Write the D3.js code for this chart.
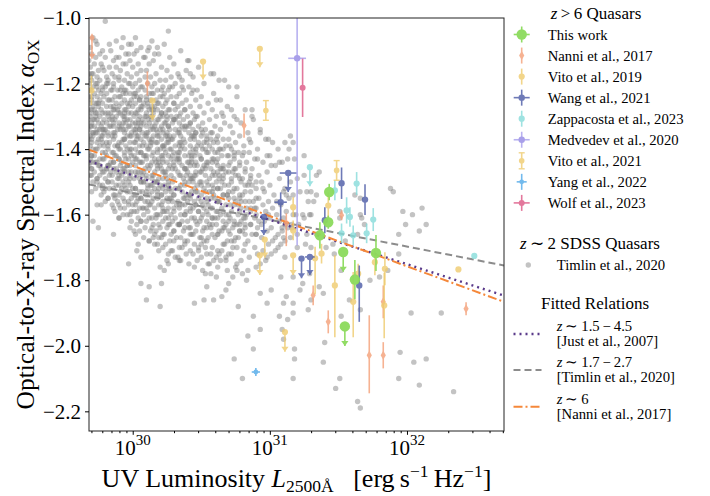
<!DOCTYPE html>
<html>
<head>
<meta charset="utf-8">
<script src="https://cdn.jsdelivr.net/npm/d3@7"></script>
<style>
  body { margin: 0; background: #fff; }
  text { font-family: "Liberation Serif", "Times New Roman", serif; fill: #000; }
</style>
</head>
<body>
<svg id="chart" width="710" height="496"></svg>
<script>
// rows: [log10 L2500, alphaOX, errDown, errUp, xErrDex, upperLimit]
var thisWork = [
  [31.433, -1.531, 0.025, 0.025, 0, 0], [31.426, -1.623, 0.02, 0.02, 0, 0],
  [31.365, -1.663, 0.04, 0.04, 0, 0], [31.535, -1.714, 0.06, 0, 0, 1],
  [31.774, -1.717, 0.055, 0.055, 0, 0], [31.620, -1.798, 0.06, 0.06, 0, 0],
  [31.547, -1.941, 0.06, 0, 0, 1]
];
var nanni2017 = [
  [29.703, -1.060, 0.064, 0, 0, 1], [30.107, -1.200, 0.037, 0.037, 0, 0],
  [30.812, -1.328, 0.037, 0.037, 0, 0], [31.120, -1.626, 0.07, 0.03, 0, 0],
  [31.523, -1.602, 0.015, 0.015, 0, 0], [31.316, -1.846, 0.03, 0.03, 0, 0],
  [31.426, -1.927, 0.035, 0.035, 0, 0], [31.725, -2.029, 0.116, 0.122, 0, 0],
  [31.827, -1.866, 0.05, 0.05, 0, 0], [31.827, -2.029, 0.04, 0.04, 0, 0],
  [32.431, -1.887, 0.02, 0.02, 0, 0]
];
var vito2019 = [
  [30.927, -1.094, 0.056, 0, 0, 1], [30.513, -1.133, 0.055, 0, 0, 1],
  [30.144, -1.252, 0.06, 0, 0, 1], [29.699, -1.221, 0.045, 0.045, 0, 0],
  [30.963, -1.676, 0.055, 0, 0, 1], [30.927, -1.724, 0.06, 0, 0, 1],
  [31.170, -1.577, 0.03, 0.03, 0, 0], [31.170, -1.648, 0.03, 0.03, 0, 0],
  [31.170, -1.724, 0.06, 0, 0, 1], [31.110, -1.958, 0.06, 0, 0, 1],
  [31.330, -1.733, 0.11, 0.035, 0, 0], [31.377, -1.719, 0.03, 0.03, 0, 0],
  [31.474, -1.816, 0.158, 0.092, 0, 0], [31.608, -1.866, 0.108, 0.091, 0, 0],
  [31.766, -1.745, 0.04, 0.04, 0, 0], [31.839, -1.765, 0.05, 0.05, 0, 0],
  [31.834, -1.877, 0.1, 0.1, 0, 0], [32.375, -1.767, 0, 0, 0, 0],
  [31.426, -1.572, 0.04, 0.04, 0, 0], [31.644, -1.780, 0.03, 0.03, 0, 0]
];
var wang2021 = [
  [31.134, -1.473, 0.058, 0, 0.062, 1], [31.079, -1.562, 0.056, 0.03, 0.045, 0],
  [30.956, -1.607, 0.055, 0, 0, 1], [31.523, -1.504, 0.048, 0.048, 0, 0],
  [31.694, -1.554, 0.047, 0.047, 0, 0], [31.231, -1.734, 0.06, 0, 0, 1],
  [31.292, -1.729, 0.055, 0, 0.035, 1], [31.652, -1.816, 0.111, 0.061, 0, 0],
  [31.401, -1.617, 0.04, 0.04, 0, 0]
];
var zappacosta2023 = [
  [31.292, -1.455, 0.058, 0, 0, 1], [31.633, -1.505, 0.035, 0.035, 0, 0],
  [31.474, -1.526, 0.03, 0.03, 0, 0], [31.560, -1.587, 0.04, 0.04, 0, 0],
  [31.584, -1.607, 0.03, 0.03, 0, 0], [31.706, -1.657, 0.03, 0.03, 0, 0],
  [31.754, -1.615, 0.035, 0.035, 0, 0], [31.523, -1.657, 0.03, 0.03, 0, 0],
  [31.608, -1.663, 0.03, 0.03, 0, 0], [32.491, -1.726, 0, 0, 0, 0]
];
var medvedev2020 = [[31.199, -1.123, 0.571, 0.3, 0.065, 0]];
var vito2021 = [[30.971, -1.282, 0.03, 0.03, 0, 0], [31.487, -1.465, 0.03, 0.03, 0, 0]];
var yang2022 = [[30.898, -2.080, 0.012, 0.012, 0.03, 0]];
var wolf2023 = [[31.239, -1.213, 0.089, 0.089, 0, 0]];

// z~2 SDSS sample, core read row by row: [alphaOX, [log10 L2500, ...]]
var timlin2020Core = [
  [-1.06, [29.71, 30.02]], [-1.07, [29.88, 30.14]], [-1.08, [29.74, 29.97, 30.23]],
  [-1.09, [29.69, 29.92, 30.06]], [-1.10, [29.78, 29.84, 30.11, 30.35]],
  [-1.11, [29.70, 29.95, 30.01, 30.19]], [-1.12, [29.73, 29.80, 29.90, 30.08, 30.27]],
  [-1.13, [29.68, 29.86, 29.98, 30.15, 30.41]], [-1.14, [29.72, 29.77, 29.93, 30.04, 30.12, 30.30]],
  [-1.15, [29.69, 29.83, 29.88, 30.00, 30.21, 30.48]],
  [-1.16, [29.75, 29.79, 29.91, 30.06, 30.10, 30.25, 30.39]],
  [-1.17, [29.68, 29.71, 29.85, 29.96, 30.03, 30.17, 30.33, 30.57]],
  [-1.18, [29.74, 29.81, 29.87, 29.99, 30.09, 30.13, 30.28, 30.44]],
  [-1.19, [29.70, 29.76, 29.90, 29.94, 30.05, 30.20, 30.24, 30.36, 30.63]],
  [-1.20, [29.68, 29.73, 29.82, 29.86, 29.97, 30.02, 30.11, 30.16, 30.31, 30.52]],
  [-1.21, [29.71, 29.78, 29.80, 29.92, 30.00, 30.07, 30.14, 30.22, 30.29, 30.41, 30.70]],
  [-1.22, [29.69, 29.75, 29.84, 29.89, 29.95, 30.04, 30.09, 30.18, 30.26, 30.37, 30.47]],
  [-1.23, [29.72, 29.77, 29.81, 29.93, 29.98, 30.01, 30.12, 30.15, 30.23, 30.34, 30.43, 30.59]],
  [-1.24, [29.68, 29.74, 29.79, 29.87, 29.91, 30.03, 30.06, 30.10, 30.20, 30.28, 30.32, 30.50, 30.76]],
  [-1.25, [29.70, 29.76, 29.83, 29.85, 29.94, 29.99, 30.05, 30.13, 30.17, 30.25, 30.39, 30.46, 30.64]],
  [-1.26, [29.69, 29.73, 29.78, 29.88, 29.92, 29.96, 30.02, 30.08, 30.11, 30.19, 30.24, 30.30, 30.36, 30.55]],
  [-1.27, [29.71, 29.75, 29.81, 29.84, 29.90, 29.97, 30.00, 30.07, 30.14, 30.16, 30.22, 30.33, 30.42, 30.49, 30.69]],
  [-1.28, [29.68, 29.72, 29.77, 29.86, 29.89, 29.95, 30.04, 30.06, 30.12, 30.18, 30.27, 30.31, 30.38, 30.58, 30.82]],
  [-1.29, [29.70, 29.74, 29.80, 29.82, 29.91, 29.94, 29.99, 30.03, 30.10, 30.15, 30.21, 30.24, 30.35, 30.44, 30.52, 30.65]],
  [-1.30, [29.69, 29.73, 29.76, 29.85, 29.88, 29.93, 30.01, 30.05, 30.09, 30.13, 30.20, 30.28, 30.32, 30.40, 30.47, 30.61, 30.74]],
  [-1.31, [29.68, 29.71, 29.79, 29.83, 29.87, 29.96, 29.98, 30.04, 30.11, 30.14, 30.19, 30.25, 30.30, 30.37, 30.45, 30.56, 30.88]],
  [-1.32, [29.70, 29.75, 29.78, 29.81, 29.90, 29.93, 30.00, 30.02, 30.08, 30.12, 30.17, 30.23, 30.29, 30.34, 30.42, 30.51, 30.67, 30.79]],
  [-1.33, [29.69, 29.72, 29.77, 29.84, 29.86, 29.92, 29.97, 30.03, 30.06, 30.10, 30.16, 30.21, 30.26, 30.36, 30.39, 30.48, 30.60, 30.71]],
  [-1.34, [29.68, 29.74, 29.76, 29.80, 29.89, 29.91, 29.95, 30.01, 30.05, 30.13, 30.15, 30.20, 30.27, 30.31, 30.38, 30.44, 30.53, 30.64, 30.93]],
  [-1.35, [29.71, 29.73, 29.79, 29.82, 29.87, 29.94, 29.99, 30.02, 30.07, 30.11, 30.18, 30.22, 30.25, 30.33, 30.41, 30.46, 30.57, 30.73, 30.84]],
  [-1.36, [29.69, 29.71, 29.78, 29.85, 29.87, 29.96, 29.99, 30.04, 30.09, 30.10, 30.19, 30.24, 30.25, 30.35, 30.43, 30.45, 30.50, 30.62, 30.78]],
  [-1.37, [29.68, 29.75, 29.77, 29.86, 29.93, 29.94, 30.03, 30.12, 30.14, 30.21, 30.28, 30.29, 30.37, 30.45, 30.54, 30.57, 30.66, 30.70, 30.97]],
  [-1.38, [29.70, 29.74, 29.81, 29.83, 29.92, 29.98, 30.01, 30.08, 30.17, 30.18, 30.26, 30.34, 30.35, 30.48, 30.52, 30.59, 30.75, 30.86]],
  [-1.39, [29.69, 29.76, 29.79, 29.87, 29.89, 29.95, 30.05, 30.07, 30.13, 30.22, 30.23, 30.31, 30.36, 30.42, 30.47, 30.56, 30.68, 30.81]],
  [-1.40, [29.71, 29.73, 29.82, 29.90, 29.91, 29.96, 30.02, 30.11, 30.12, 30.20, 30.27, 30.28, 30.38, 30.44, 30.51, 30.53, 30.63, 30.72, 30.91]],
  [-1.41, [29.68, 29.78, 29.80, 29.85, 29.94, 29.98, 30.04, 30.06, 30.15, 30.18, 30.24, 30.33, 30.34, 30.46, 30.55, 30.60, 30.62, 30.77, 30.85]],
  [-1.42, [29.70, 29.72, 29.81, 29.87, 29.88, 29.99, 30.01, 30.08, 30.14, 30.21, 30.22, 30.29, 30.41, 30.43, 30.49, 30.65, 30.69, 30.80, 31.00]],
  [-1.43, [29.69, 29.76, 29.79, 29.90, 29.95, 29.97, 30.03, 30.10, 30.16, 30.19, 30.28, 30.32, 30.33, 30.43, 30.50, 30.58, 30.59, 30.74, 30.89]],
  [-1.44, [29.71, 29.73, 29.84, 29.86, 29.92, 30.00, 30.05, 30.07, 30.17, 30.22, 30.25, 30.34, 30.40, 30.41, 30.54, 30.61, 30.71, 30.83, 30.95]],
  [-1.45, [29.68, 29.75, 29.82, 29.83, 29.91, 29.96, 30.02, 30.11, 30.13, 30.20, 30.27, 30.30, 30.36, 30.45, 30.47, 30.52, 30.62, 30.70, 30.78, 31.04]],
  [-1.46, [29.70, 29.77, 29.81, 29.88, 29.93, 29.94, 30.09, 30.12, 30.18, 30.21, 30.31, 30.38, 30.39, 30.51, 30.57, 30.64, 30.66, 30.75, 30.87]],
  [-1.47, [29.72, 29.79, 29.84, 29.97, 29.99, 30.04, 30.08, 30.16, 30.23, 30.24, 30.33, 30.40, 30.46, 30.49, 30.59, 30.68, 30.73, 30.82, 30.98]],
  [-1.48, [29.69, 29.76, 29.83, 29.85, 29.92, 30.03, 30.07, 30.14, 30.15, 30.24, 30.28, 30.35, 30.42, 30.45, 30.53, 30.60, 30.66, 30.77, 30.92]],
  [-1.49, [29.74, 29.80, 29.89, 29.90, 29.95, 30.05, 30.10, 30.19, 30.22, 30.25, 30.37, 30.43, 30.44, 30.56, 30.63, 30.72, 30.80, 30.86, 31.07]],
  [-1.50, [29.71, 29.74, 29.85, 29.93, 29.97, 30.06, 30.08, 30.17, 30.26, 30.29, 30.41, 30.44, 30.50, 30.61, 30.65, 30.72, 30.79, 30.94]],
  [-1.51, [29.76, 29.88, 29.90, 29.98, 30.11, 30.13, 30.20, 30.23, 30.35, 30.38, 30.47, 30.55, 30.58, 30.67, 30.84, 30.87, 31.00]],
  [-1.52, [29.73, 29.80, 29.83, 29.95, 30.00, 30.02, 30.16, 30.19, 30.27, 30.31, 30.33, 30.45, 30.52, 30.62, 30.64, 30.76, 30.90, 31.11]],
  [-1.53, [29.79, 29.91, 29.96, 30.05, 30.07, 30.14, 30.24, 30.28, 30.36, 30.43, 30.47, 30.53, 30.56, 30.70, 30.73, 30.82, 30.96]],
  [-1.54, [29.77, 29.86, 29.87, 30.01, 30.10, 30.12, 30.18, 30.21, 30.30, 30.39, 30.41, 30.50, 30.59, 30.66, 30.69, 30.80, 31.03]],
  [-1.55, [29.82, 29.93, 29.99, 30.04, 30.06, 30.15, 30.25, 30.27, 30.37, 30.42, 30.48, 30.57, 30.60, 30.74, 30.78, 30.92, 31.14]],
  [-1.56, [29.80, 29.89, 30.03, 30.09, 30.11, 30.22, 30.29, 30.33, 30.40, 30.45, 30.54, 30.62, 30.63, 30.75, 30.85, 30.88, 30.99]],
  [-1.57, [29.85, 29.97, 30.00, 30.13, 30.19, 30.21, 30.32, 30.36, 30.46, 30.51, 30.55, 30.68, 30.71, 30.77, 30.95, 31.08]],
  [-1.58, [29.91, 29.94, 30.05, 30.08, 30.16, 30.26, 30.30, 30.34, 30.44, 30.52, 30.57, 30.65, 30.79, 30.83, 30.90, 31.02]],
  [-1.59, [29.87, 30.01, 30.03, 30.11, 30.23, 30.25, 30.39, 30.42, 30.48, 30.61, 30.62, 30.72, 30.86, 30.97, 31.12]],
  [-1.60, [29.93, 29.96, 30.08, 30.17, 30.20, 30.28, 30.35, 30.38, 30.51, 30.55, 30.64, 30.68, 30.77, 30.83, 31.05, 31.19]],
  [-1.61, [29.90, 30.04, 30.12, 30.14, 30.24, 30.31, 30.43, 30.45, 30.58, 30.60, 30.71, 30.81, 30.89, 31.00, 31.10]],
  [-1.62, [29.99, 30.06, 30.10, 30.22, 30.29, 30.36, 30.40, 30.49, 30.54, 30.66, 30.70, 30.79, 30.92, 30.96, 31.07]],
  [-1.63, [30.03, 30.15, 30.19, 30.26, 30.33, 30.34, 30.47, 30.56, 30.61, 30.74, 30.76, 30.86, 30.94, 31.16]],
  [-1.64, [29.98, 30.09, 30.20, 30.25, 30.38, 30.41, 30.52, 30.57, 30.67, 30.73, 30.82, 30.91, 31.01, 31.13]],
  [-1.65, [30.05, 30.13, 30.17, 30.30, 30.37, 30.46, 30.51, 30.63, 30.65, 30.78, 30.80, 30.98, 31.09]],
  [-1.66, [30.02, 30.16, 30.23, 30.28, 30.43, 30.44, 30.58, 30.62, 30.71, 30.87, 30.90, 31.06, 31.20]],
  [-1.67, [30.08, 30.19, 30.32, 30.35, 30.49, 30.55, 30.60, 30.75, 30.77, 30.94, 31.04, 31.15]],
  [-1.68, [30.12, 30.27, 30.30, 30.40, 30.52, 30.54, 30.69, 30.72, 30.84, 31.02, 31.11]],
  [-1.69, [30.16, 30.24, 30.38, 30.45, 30.50, 30.66, 30.67, 30.82, 30.99, 31.08]],
  [-1.70, [30.22, 30.34, 30.36, 30.53, 30.58, 30.73, 30.76, 30.89, 31.06]],
  [-1.71, [30.19, 30.29, 30.42, 30.48, 30.62, 30.65, 30.81, 30.95, 31.04]],
  [-1.72, [30.26, 30.39, 30.44, 30.57, 30.70, 30.72, 30.91, 31.01]],
  [-1.73, [30.31, 30.33, 30.50, 30.61, 30.68, 30.85, 30.98]],
  [-1.74, [30.35, 30.47, 30.59, 30.64, 30.79, 30.97]],
  [-1.75, [30.41, 30.55, 30.56, 30.76, 30.93]],
  [-1.76, [30.45, 30.62, 30.75, 30.90]],
  [-1.77, [30.51, 30.69, 30.84]],
  [-1.78, [30.57, 30.80]]
];

// z~2 SDSS sample, core read column by column: [log10 L2500, [alphaOX, ...]]
var timlin2020Cols = [
  [29.70, [-1.17, -1.24, -1.28, -1.33, -1.37, -1.42, -1.46, -1.53]],
  [29.74, [-1.20, -1.26, -1.31, -1.35, -1.40, -1.44, -1.49, -1.57]],
  [29.78, [-1.15, -1.22, -1.29, -1.34, -1.38, -1.43, -1.47, -1.51]],
  [29.82, [-1.19, -1.25, -1.30, -1.36, -1.39, -1.45, -1.50, -1.55]],
  [29.86, [-1.21, -1.27, -1.32, -1.35, -1.41, -1.46, -1.52, -1.58]],
  [29.90, [-1.18, -1.24, -1.29, -1.33, -1.38, -1.43, -1.48, -1.54, -1.61]],
  [29.94, [-1.22, -1.28, -1.31, -1.37, -1.42, -1.47, -1.51, -1.56]],
  [29.98, [-1.20, -1.26, -1.33, -1.36, -1.40, -1.45, -1.49, -1.53, -1.60]],
  [30.02, [-1.23, -1.29, -1.34, -1.38, -1.43, -1.47, -1.52, -1.57]],
  [30.06, [-1.21, -1.27, -1.32, -1.37, -1.41, -1.44, -1.50, -1.55, -1.62]],
  [30.10, [-1.25, -1.30, -1.35, -1.39, -1.42, -1.48, -1.53, -1.58]],
  [30.14, [-1.23, -1.28, -1.33, -1.38, -1.44, -1.49, -1.51, -1.56, -1.64]],
  [30.18, [-1.26, -1.31, -1.36, -1.40, -1.45, -1.50, -1.55, -1.60]],
  [30.22, [-1.24, -1.30, -1.34, -1.39, -1.43, -1.47, -1.52, -1.58, -1.66]],
  [30.26, [-1.28, -1.33, -1.37, -1.42, -1.46, -1.51, -1.56, -1.61]],
  [30.30, [-1.26, -1.31, -1.36, -1.41, -1.44, -1.49, -1.54, -1.59, -1.65]],
  [30.34, [-1.30, -1.35, -1.39, -1.43, -1.48, -1.52, -1.57, -1.63]],
  [30.38, [-1.28, -1.33, -1.38, -1.42, -1.46, -1.50, -1.55, -1.60, -1.68]],
  [30.42, [-1.32, -1.37, -1.41, -1.45, -1.49, -1.54, -1.58, -1.64]],
  [30.46, [-1.30, -1.35, -1.40, -1.44, -1.48, -1.53, -1.57, -1.62]],
  [30.50, [-1.34, -1.39, -1.43, -1.47, -1.51, -1.56, -1.61, -1.67]],
  [30.54, [-1.36, -1.41, -1.45, -1.50, -1.55, -1.59, -1.64]],
  [30.58, [-1.35, -1.40, -1.44, -1.48, -1.53, -1.58, -1.63]],
  [30.62, [-1.38, -1.43, -1.47, -1.52, -1.56, -1.61, -1.66]],
  [30.66, [-1.40, -1.45, -1.49, -1.54, -1.59, -1.64]],
  [30.70, [-1.42, -1.47, -1.51, -1.55, -1.60, -1.65]],
  [30.74, [-1.41, -1.46, -1.52, -1.57, -1.62, -1.68]],
  [30.78, [-1.44, -1.49, -1.54, -1.59, -1.63]],
  [30.82, [-1.46, -1.51, -1.56, -1.61, -1.66]],
  [30.86, [-1.48, -1.53, -1.58, -1.63]],
  [30.90, [-1.50, -1.55, -1.60, -1.66]]
];

// z~2 SDSS sample, remaining points: [log10 L2500, alphaOX]
var timlin2020 = [
  [29.69,-1.18],[29.73,-1.29],[29.77,-1.36],[29.72,-1.31],[29.74,-1.21],[29.76,-1.45],
  [29.71,-1.35],[29.75,-1.26],[29.79,-1.34],[29.70,-1.48],[29.78,-1.52],[29.69,-1.44],
  [29.81,-1.20],[29.85,-1.31],[29.89,-1.39],[29.84,-1.29],[29.88,-1.47],[29.83,-1.33],
  [29.87,-1.28],[29.82,-1.50],[29.86,-1.44],[29.85,-1.22],[29.87,-1.55],[29.81,-1.46],
  [29.91,-1.22],[29.95,-1.32],[29.99,-1.40],[29.94,-1.30],[29.98,-1.48],[29.93,-1.34],
  [29.97,-1.29],[29.92,-1.52],[29.96,-1.45],[29.95,-1.23],[29.97,-1.56],[29.91,-1.47],
  [30.01,-1.24],[30.05,-1.34],[30.09,-1.42],[30.04,-1.32],[30.08,-1.50],[30.03,-1.36],
  [30.07,-1.31],[30.02,-1.54],[30.06,-1.47],[30.05,-1.25],[30.07,-1.58],[30.01,-1.49],
  [30.11,-1.27],[30.15,-1.36],[30.19,-1.44],[30.14,-1.30],[30.18,-1.53],[30.13,-1.38],
  [30.17,-1.34],[30.12,-1.57],[30.16,-1.50],[30.15,-1.28],[30.17,-1.61],[30.11,-1.52],
  [30.21,-1.29],[30.25,-1.38],[30.29,-1.46],[30.24,-1.32],[30.28,-1.55],[30.23,-1.40],
  [30.27,-1.36],[30.22,-1.59],[30.26,-1.52],[30.25,-1.30],[30.27,-1.63],[30.21,-1.54],
  [30.31,-1.31],[30.35,-1.40],[30.39,-1.48],[30.34,-1.34],[30.38,-1.57],[30.33,-1.42],
  [30.41,-1.33],[30.45,-1.42],[30.49,-1.50],[30.44,-1.36],[30.48,-1.59],[30.43,-1.44],
  [30.51,-1.35],[30.55,-1.44],[30.59,-1.52],[30.54,-1.38],[30.58,-1.61],[30.53,-1.46],
  [30.61,-1.37],[30.65,-1.46],[30.69,-1.54],[30.64,-1.40],[30.68,-1.63],[30.63,-1.48],
  [30.71,-1.39],[30.75,-1.48],[30.79,-1.56],[30.74,-1.42],[30.78,-1.65],
  [30.81,-1.41],[30.85,-1.50],[30.89,-1.58],[30.82,-1.63],
  [30.91,-1.43],[30.95,-1.52],[30.99,-1.60],[31.01,-1.45],[31.05,-1.56],[31.09,-1.64],
  // sparse outskirts
  [29.80,-1.01],[30.26,-1.04],[29.93,-1.06],[29.73,-1.07],[29.83,-1.08],[29.99,-1.08],
  [30.12,-1.09],[30.18,-1.09],[29.97,-1.11],[30.03,-1.10],[29.88,-1.12],[30.40,-1.13],
  [30.09,-1.12],[30.16,-1.11],[29.76,-1.11],[29.95,-1.14],[30.59,-1.17],[30.67,-1.19],
  [30.42,-1.17],[30.34,-1.18],[30.27,-1.21],[30.21,-1.22],[30.76,-1.21],[30.61,-1.25],
  [30.44,-1.22],[30.36,-1.21],[30.72,-1.28],[30.87,-1.28],[30.87,-1.30],[30.66,-1.30],
  [30.76,-1.31],[30.93,-1.35],[30.99,-1.37],[31.02,-1.38],[31.11,-1.38],[31.07,-1.44],
  [31.13,-1.43],[30.98,-1.42],[30.85,-1.37],[31.06,-1.40],[31.15,-1.36],
  [31.14,-1.40],[31.17,-1.38],[31.25,-1.42],[31.09,-1.44],[31.18,-1.43],[31.36,-1.47],
  [31.34,-1.48],[31.25,-1.48],[31.20,-1.49],[31.15,-1.50],[31.10,-1.53],[31.22,-1.53],
  [31.27,-1.53],[31.30,-1.53],[31.34,-1.54],[31.17,-1.54],[31.12,-1.54],[31.32,-1.56],
  [31.28,-1.56],[31.62,-1.54],[31.66,-1.55],[31.88,-1.52],[31.90,-1.53],[31.97,-1.59],
  [32.04,-1.60],[32.11,-1.58],[31.51,-1.59],[31.25,-1.61],[31.29,-1.60],[31.51,-1.61],
  [31.67,-1.61],[31.17,-1.60],[31.24,-1.60],[31.30,-1.60],[31.11,-1.63],[31.16,-1.64],
  [31.21,-1.63],[31.10,-1.67],[31.27,-1.66],[31.34,-1.66],[31.20,-1.70],[31.26,-1.69],
  [31.30,-1.70],[31.41,-1.70],[31.46,-1.69],[31.47,-1.72],[31.55,-1.68],[31.64,-1.66],
  [31.69,-1.63],[31.66,-1.60],[31.11,-1.73],[31.08,-1.79],[31.17,-1.79],[31.24,-1.81],
  [31.29,-1.78],[31.22,-1.83],[31.36,-1.82],[31.30,-1.86],[31.12,-1.85],[31.17,-1.87],
  [31.17,-1.90],[31.28,-1.89],[31.39,-1.84],[31.52,-1.77],[31.58,-1.86],[31.52,-1.91],
  [31.66,-1.89],[31.73,-1.80],[31.80,-1.79],[31.86,-1.77],[31.94,-1.66],[31.99,-1.63],
  [32.09,-1.65],[32.14,-1.63],[31.94,-1.72],[32.03,-1.90],[31.95,-2.02],[32.05,-2.05],
  [32.14,-2.04],[32.09,-2.12],[31.94,-2.10],[31.51,-2.10],[31.48,-2.13],[31.64,-2.17],
  [31.66,-2.19],[31.17,-2.10],[31.18,-2.04],[31.18,-2.01],[31.40,-1.99],[31.39,-2.05],
  [31.09,-1.95],[31.10,-1.98],[32.25,-1.90],[32.34,-2.14],
  [29.97,-1.75],[30.03,-1.71],[30.01,-1.65],[30.04,-1.69],[30.06,-1.81],[30.10,-1.86],
  [30.12,-1.82],[30.21,-1.81],[30.20,-1.88],[30.20,-1.76],[30.26,-1.75],[30.23,-1.77],
  [30.34,-1.74],[30.45,-1.87],[30.52,-1.86],[30.59,-1.86],[30.54,-1.82],[30.53,-1.78],
  [30.61,-1.79],[30.65,-1.85],[30.68,-1.83],[30.70,-1.81],[30.76,-1.77],[30.77,-1.88],
  [30.83,-1.80],[30.84,-1.97],[30.88,-1.91],[30.93,-1.95],[30.93,-1.84],[30.98,-1.87],
  [31.01,-1.83],[31.07,-1.91],[31.10,-1.87],[30.80,-2.10],[30.74,-2.04],[30.88,-2.01],
  [31.13,-1.92],[29.77,-1.57],[29.90,-1.57],[29.99,-1.59],[30.15,-1.67],[30.12,-1.68],
  [30.18,-1.69],[30.21,-1.67],[30.42,-1.66],[30.34,-1.63],[30.28,-1.71],[30.25,-1.74],
  [30.68,-1.74],[30.63,-1.72],[30.73,-1.79],[30.54,-1.72],[30.48,-1.70],[29.86,-1.66],
  [29.71,-1.62],[29.75,-1.64],[30.06,-1.73]
];

// fitted relations, end points read at the axis limits
var justFit = [[29.681, -1.437], [32.708, -1.847]];
var timlinFit = [[29.681, -1.508], [32.708, -1.755]];
var nanniFit = [[29.681, -1.402], [32.708, -1.866]];

var yTicks = [-2.2, -2.0, -1.8, -1.6, -1.4, -1.2, -1.0];
var xMajorExps = [30, 31, 32];
var highzLabels = ['This work', 'Nanni et al., 2017', 'Vito et al., 2019', 'Wang et al., 2021',
  'Zappacosta et al., 2023', 'Medvedev et al., 2020', 'Vito et al., 2021', 'Yang et al., 2022', 'Wolf et al., 2023'];

var plotLeft = 89, plotRight = 504, plotTop = 18, plotBottom = 431;

var x = d3.scaleLog().domain([4.8e29, 5.1e32]).range([plotLeft, plotRight]);
var y = d3.scaleLinear().domain([-2.26, -1.0]).range([plotBottom, plotTop]);
function px(l) { return x(Math.pow(10, l)); }

var svg = d3.select('#chart');
svg.append('defs').append('clipPath').attr('id', 'plotClip')
  .append('rect')
  .attr('x', plotLeft).attr('y', plotTop)
  .attr('width', plotRight - plotLeft).attr('height', plotBottom - plotTop);

var plot = svg.append('g').attr('clip-path', 'url(#plotClip)');

// SDSS cloud
var sdssPoints = [];
timlin2020Core.forEach(function (row) {
  row[1].forEach(function (l) { sdssPoints.push([l, row[0]]); });
});
timlin2020Cols.forEach(function (col) {
  col[1].forEach(function (a) { sdssPoints.push([col[0], a]); });
});
sdssPoints = sdssPoints.concat(timlin2020);

plot.append('g').selectAll('circle')
  .data(sdssPoints)
  .enter().append('circle')
  .attr('cx', function (d) { return px(d[0]); })
  .attr('cy', function (d) { return y(d[1]); })
  .attr('r', 2.7)
  .attr('fill', '#828282')
  .attr('fill-opacity', 0.48);

// fitted relations
var fitLine = d3.line()
  .x(function (d) { return px(d[0]); })
  .y(function (d) { return y(d[1]); });

var fitStyles = [
  { data: timlinFit, color: '#8c8c8c', dash: '7,4', cap: 'butt', width: 2 },
  { data: justFit, color: '#5a3a8a', dash: '2,4', cap: 'butt', width: 2.4 },
  { data: nanniFit, color: '#f5883a', dash: '9,3,2,3', cap: 'butt', width: 2 }
];
fitStyles.forEach(function (f) {
  plot.append('path')
    .attr('d', fitLine(f.data))
    .attr('fill', 'none')
    .attr('stroke', f.color)
    .attr('stroke-width', f.width)
    .attr('stroke-dasharray', f.dash)
    .attr('stroke-linecap', f.cap);
});

// marker drawing for the z>6 samples
function drawMarker(g, cx, cy, st) {
  if (st.shape === 'diamond') {
    g.append('path')
      .attr('d', 'M' + cx + ',' + (cy - 4.5) + 'L' + (cx + 2.6) + ',' + cy + 'L' + cx + ',' + (cy + 4.5) + 'L' + (cx - 2.6) + ',' + cy + 'Z')
      .attr('fill', st.color);
  } else {
    g.append('circle').attr('cx', cx).attr('cy', cy).attr('r', st.r).attr('fill', st.color);
  }
}

function drawSample(rows, st) {
  var layer = plot.append('g');
  rows.forEach(function (d) {
    var cx = px(d[0]), cy = y(d[1]);
    var g = layer.append('g').attr('opacity', st.opacity);
    var lc = st.lineColor || st.color;
    var yLo = y(d[1] - d[2]), yHi = y(d[1] + d[3]);
    if (d[2] || d[3]) {
      g.append('line').attr('x1', cx).attr('x2', cx).attr('y1', yLo).attr('y2', yHi)
        .attr('stroke', lc).attr('stroke-width', 1.6);
      if (st.caps) {
        [yLo, yHi].forEach(function (yy) {
          g.append('line').attr('x1', cx - 3).attr('x2', cx + 3).attr('y1', yy).attr('y2', yy)
            .attr('stroke', lc).attr('stroke-width', 1.4);
        });
      }
    }
    if (d[4]) {
      g.append('line').attr('x1', px(d[0] - d[4])).attr('x2', px(d[0] + d[4])).attr('y1', cy).attr('y2', cy)
        .attr('stroke', lc).attr('stroke-width', 1.6);
    }
    if (d[5]) {
      g.append('path')
        .attr('d', 'M' + (cx - 3.6) + ',' + (yLo - 5) + 'L' + (cx + 3.6) + ',' + (yLo - 5) + 'L' + cx + ',' + yLo + 'Z')
        .attr('fill', lc);
    }
    drawMarker(g, cx, cy, st);
  });
}

var styles = [
  { rows: thisWork, color: '#8cdb5c', r: 5.2, opacity: 0.95, legendH: true },
  { rows: nanni2017, color: '#f4a078', shape: 'diamond', opacity: 0.8 },
  { rows: vito2019, color: '#efcb6e', r: 3.1, opacity: 0.8 },
  { rows: wang2021, color: '#4b5aa6', r: 3.2, opacity: 0.8, legendH: true },
  { rows: zappacosta2023, color: '#86dcda', r: 3.1, opacity: 0.8 },
  { rows: medvedev2020, color: '#9a8fe6', lineColor: '#aca4ee', r: 3.2, opacity: 0.85, legendH: true },
  { rows: vito2021, color: '#efcb6e', r: 2.8, opacity: 0.8, caps: true },
  { rows: yang2022, color: '#5aaeea', r: 2.4, opacity: 0.85, legendH: true },
  { rows: wolf2023, color: '#dd5784', r: 3.0, opacity: 0.8, legendH: true }
];
// draw literature first, this work on top
styles.slice(1).forEach(function (st) { drawSample(st.rows, st); });
drawSample(styles[0].rows, styles[0]);

// frame
svg.append('rect')
  .attr('x', plotLeft).attr('y', plotTop)
  .attr('width', plotRight - plotLeft).attr('height', plotBottom - plotTop)
  .attr('fill', 'none').attr('stroke', '#222').attr('stroke-width', 1);

// y axis
var yAxis = svg.append('g')
  .attr('transform', 'translate(' + plotLeft + ',0)')
  .call(d3.axisLeft(y).tickValues(yTicks).tickSize(4).tickPadding(4)
    .tickFormat(function (d) { return d3.format('.1f')(d).replace('-', '\u2212'); }));
yAxis.select('.domain').remove();
yAxis.selectAll('text').attr('font-size', 21).attr('fill', '#000');

// x axis: minor then major log ticks
var minorVals = [];
[29, 30, 31, 32].forEach(function (e) {
  for (var k = 2; k <= 9; k++) {
    var v = k * Math.pow(10, e);
    if (v > x.domain()[0] && v < x.domain()[1]) minorVals.push(v);
  }
});
var xMinor = svg.append('g')
  .attr('transform', 'translate(0,' + plotBottom + ')')
  .call(d3.axisBottom(x).tickValues(minorVals).tickSize(2.2).tickFormat(''));
xMinor.select('.domain').remove();

var xMajor = svg.append('g')
  .attr('transform', 'translate(0,' + plotBottom + ')')
  .call(d3.axisBottom(x).tickValues(xMajorExps.map(function (e) { return Math.pow(10, e); }))
    .tickSize(3.8).tickFormat(''));
xMajor.select('.domain').remove();

xMajorExps.forEach(function (e) {
  var t = svg.append('text')
    .attr('x', x(Math.pow(10, e)))
    .attr('y', 455)
    .attr('text-anchor', 'middle')
    .attr('font-size', 21);
  t.append('tspan').text('10');
  t.append('tspan').attr('font-size', 15).attr('dy', -10).text(e);
});

// axis titles
var yTitle = svg.append('text')
  .attr('transform', 'translate(34,' + ((plotTop + plotBottom) / 2) + ') rotate(-90)')
  .attr('text-anchor', 'middle')
  .attr('font-size', 25.5);
yTitle.append('tspan').text('Optical-to-X-ray Spectral Index ');
yTitle.append('tspan').attr('font-style', 'italic').text('\u03b1');
yTitle.append('tspan').attr('font-size', 17).attr('dy', 5).text('OX');

var xTitle = svg.append('text')
  .attr('x', (plotLeft + plotRight) / 2)
  .attr('y', 487)
  .attr('text-anchor', 'middle')
  .attr('font-size', 26);
xTitle.append('tspan').text('UV Luminosity ');
xTitle.append('tspan').attr('font-style', 'italic').text('L');
xTitle.append('tspan').attr('font-size', 17.5).attr('dy', 5).text('2500\u00c5');
xTitle.append('tspan').attr('dy', -5).text('\u00a0\u00a0\u00a0[erg\u2009s');
xTitle.append('tspan').attr('font-size', 17.5).attr('dy', -10).text('\u22121');
xTitle.append('tspan').attr('dy', 10).text('\u2009Hz');
xTitle.append('tspan').attr('font-size', 17.5).attr('dy', -10).text('\u22121');
xTitle.append('tspan').attr('dy', 10).text(']');

// legend: z > 6 quasars
var legend = svg.append('g');
var t1 = legend.append('text').attr('x', 596).attr('y', 18.5).attr('text-anchor', 'middle').attr('font-size', 17);
t1.append('tspan').attr('font-style', 'italic').text('z');
t1.append('tspan').text('\u2009>\u20096 Quasars');

styles.forEach(function (st, i) {
  var cy = 34.5 + i * 21.05, cx = 521.7;
  var g = legend.append('g').attr('opacity', st.opacity);
  var lc = st.lineColor || st.color;
  g.append('line').attr('x1', cx).attr('x2', cx).attr('y1', cy - 8).attr('y2', cy + 8)
    .attr('stroke', lc).attr('stroke-width', 1.6);
  if (st.caps) {
    [cy - 8, cy + 8].forEach(function (yy) {
      g.append('line').attr('x1', cx - 3).attr('x2', cx + 3).attr('y1', yy).attr('y2', yy)
        .attr('stroke', lc).attr('stroke-width', 1.4);
    });
  }
  if (st.legendH) {
    var hw = st === styles[7] ? 5 : 8;
    g.append('line').attr('x1', cx - hw).attr('x2', cx + hw).attr('y1', cy).attr('y2', cy)
      .attr('stroke', lc).attr('stroke-width', 1.6);
  }
  drawMarker(g, cx, cy, st);
  legend.append('text').attr('x', 547.7).attr('y', cy + 5).attr('font-size', 14.7).text(highzLabels[i]);
});

// legend: z~2 SDSS
var t2 = legend.append('text').attr('x', 590).attr('y', 248.5).attr('text-anchor', 'middle').attr('font-size', 17);
t2.append('tspan').attr('font-style', 'italic').text('z');
t2.append('tspan').text('\u2009\u223c\u20092 SDSS Quasars');
legend.append('circle').attr('cx', 528.3).attr('cy', 265).attr('r', 2.7).attr('fill', '#828282').attr('fill-opacity', 0.48);
legend.append('text').attr('x', 556.7).attr('y', 270).attr('font-size', 14.7).text('Timlin et al., 2020');

// legend: fitted relations
legend.append('text').attr('x', 595).attr('y', 308.5).attr('text-anchor', 'middle').attr('font-size', 17).text('Fitted Relations');
var fitLegend = [
  { st: fitStyles[1], z: '\u2009\u223c\u20091.5\u2009\u2212\u20094.5', ref: '[Just et al., 2007]', cy: 334 },
  { st: fitStyles[0], z: '\u2009\u223c\u20091.7\u2009\u2212\u20092.7', ref: '[Timlin et al., 2020]', cy: 370 },
  { st: fitStyles[2], z: '\u2009\u223c\u20096', ref: '[Nanni et al., 2017]', cy: 406.7 }
];
fitLegend.forEach(function (f) {
  legend.append('line').attr('x1', 513.5).attr('x2', 541.5).attr('y1', f.cy).attr('y2', f.cy)
    .attr('stroke', f.st.color).attr('stroke-width', f.st.width)
    .attr('stroke-dasharray', f.st.dash).attr('stroke-linecap', f.st.cap);
  var tz = legend.append('text').attr('x', 556.7).attr('y', f.cy - 3).attr('font-size', 14.7);
  tz.append('tspan').attr('font-style', 'italic').text('z');
  tz.append('tspan').text(f.z);
  legend.append('text').attr('x', 556.7).attr('y', f.cy + 12).attr('font-size', 14.7).text(f.ref);
});
</script>
</body>
</html>
